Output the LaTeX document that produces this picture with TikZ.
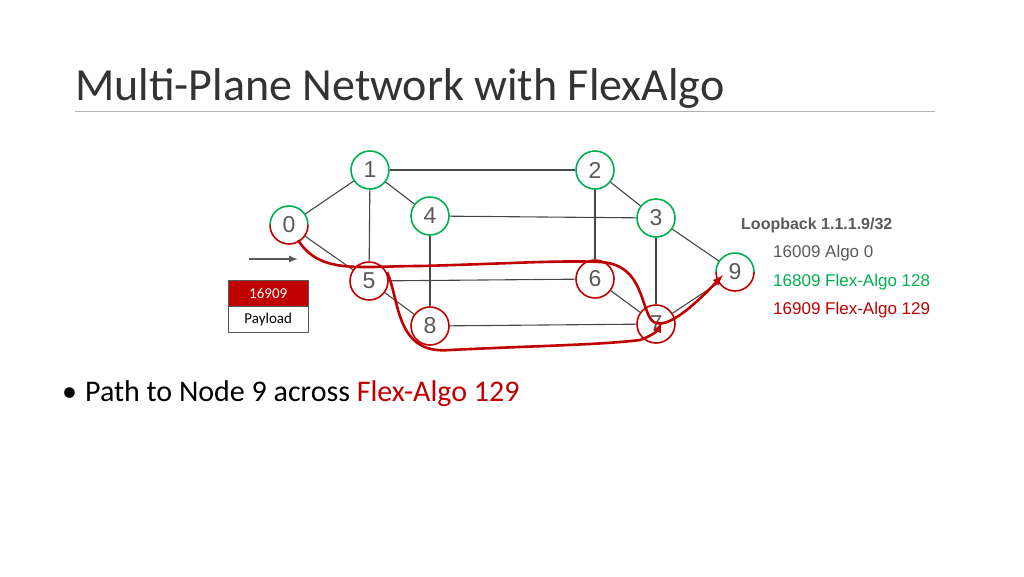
\documentclass[tikz,border=0pt]{standalone}
\usepackage{fontspec}
\setmainfont{Carlito}
\newfontfamily\arial{Liberation Sans}
\definecolor{gr}{HTML}{00B050}
\definecolor{rd}{HTML}{C00000}
\definecolor{tx}{HTML}{595959}
\begin{document}
\begin{tikzpicture}[x=1pt,y=-1pt,
  nd/.style={circle,draw=#1,line width=1.6pt,minimum size=38pt,inner sep=0pt,fill=white,font=\arial\fontsize{23}{23}\selectfont,text=tx},
  hn/.style={circle,minimum size=38pt,inner sep=0pt,font=\arial\fontsize{23}{23}\selectfont,text=tx},
  ln/.style={draw=tx!80!black,line width=1.1pt},
  pth/.style={draw=rd,line width=2.6pt,-latex}]
\useasboundingbox (0,0) rectangle (1024,576);
\node[anchor=base west,font=\fontsize{46}{46}\selectfont,text=black!80,inner sep=0pt] (title) at (75,100) {Multi-Plane Network with FlexAlgo};
\draw[gray!60,line width=0.8pt] (75,111) coordinate (r1) -- (935,111) coordinate (r2);
% nodes
\coordinate (p0) at (289,225);
\coordinate (p9) at (735,272);
\node[nd=gr] (n1) at (370,170) {1};
\node[nd=gr] (n2) at (595,170) {2};
\node[nd=gr] (n3) at (656,218) {3};
\node[nd=gr] (n4) at (430,216) {4};
\node[nd=rd] (n5) at (369,281) {5};
\node[nd=rd] (n6) at (595,279) {6};
\node[nd=rd] (n7) at (656,324) {7};
\node[nd=rd] (n8) at (430,326) {8};
\node[hn] (n0) at (p0) {};
\node[hn] (n9) at (p9) {};
% edges
\foreach \a/\b in {n0/n1,n1/n2,n1/n4,n1/n5,n2/n3,n2/n6,n4/n3,n4/n8,n3/n7,n3/n9,n5/n6,n5/n8,n6/n7,n8/n7,n7/n9,n0/n5}
  \draw[ln] (\a) -- (\b);
% half circles
\fill[white] (p0) circle (19);
\draw[gr,line width=1.6pt] ([shift={(180:19)}]p0) arc[start angle=180,end angle=360,radius=19];
\draw[rd,line width=1.6pt] ([shift={(180:19)}]p0) arc[start angle=180,end angle=0,radius=19];
\node[hn] at (p0) {0};
\fill[white] (p9) circle (19);
\draw[gr,line width=1.6pt] ([shift={(180:19)}]p9) arc[start angle=180,end angle=360,radius=19];
\draw[rd,line width=1.6pt] ([shift={(180:19)}]p9) arc[start angle=180,end angle=0,radius=19];
\node[hn] at (p9) {9};
% paths
\coordinate (s0) at (298,240);
\coordinate (s5) at (387,272);
\draw[pth] (s0) .. controls (320,275) and (360,266) .. (420,266) .. controls (500,264) and (560,260) .. (600,262)
  .. controls (640,264) and (640,300) .. (650,318) .. controls (660,335) and (690,310) .. (723,275);
\draw[pth] (s5) .. controls (400,300) and (395,355) .. (450,350) .. controls (530,346) and (600,345) .. (640,340) .. controls (652,336) and (658,330) .. (662,322);
% arrow and packet
\draw[tx,line width=2pt,-latex] (249,259) coordinate (a1) -- (298,259) coordinate (a2);
\node[draw=tx,fill=rd,text=white,minimum width=80pt,minimum height=26pt,inner sep=0pt,font=\fontsize{15}{15}\selectfont,anchor=north west] (hdr) at (228,280) {16909};
\node[draw=tx,fill=white,minimum width=80pt,minimum height=26pt,inner sep=0pt,font=\fontsize{15}{15}\selectfont,anchor=north] (pl) at (hdr.south) {Payload};
% legend
\node[anchor=base west,font=\arial\bfseries\fontsize{16}{16}\selectfont,text=tx,inner sep=0pt] (lb) at (741,229) {Loopback 1.1.1.9/32};
\node[anchor=base west,font=\arial\fontsize{17}{17}\selectfont,text=tx,inner sep=0pt] (l0) at (773,257) {16009 Algo 0};
\node[anchor=base west,font=\arial\fontsize{17}{17}\selectfont,text=gr,inner sep=0pt] (l1) at (773,286) {16809 Flex-Algo 128};
\node[anchor=base west,font=\arial\fontsize{17}{17}\selectfont,text=rd,inner sep=0pt] (l2) at (773,314) {16909 Flex-Algo 129};
% bullet
\node[anchor=base west,font=\fontsize{30}{30}\selectfont,text=black,inner sep=0pt] (bl) at (62,401) {\textbullet\hspace{8pt}Path to Node 9 across \textcolor{rd}{Flex-Algo 129}};
\end{tikzpicture}
\end{document}
